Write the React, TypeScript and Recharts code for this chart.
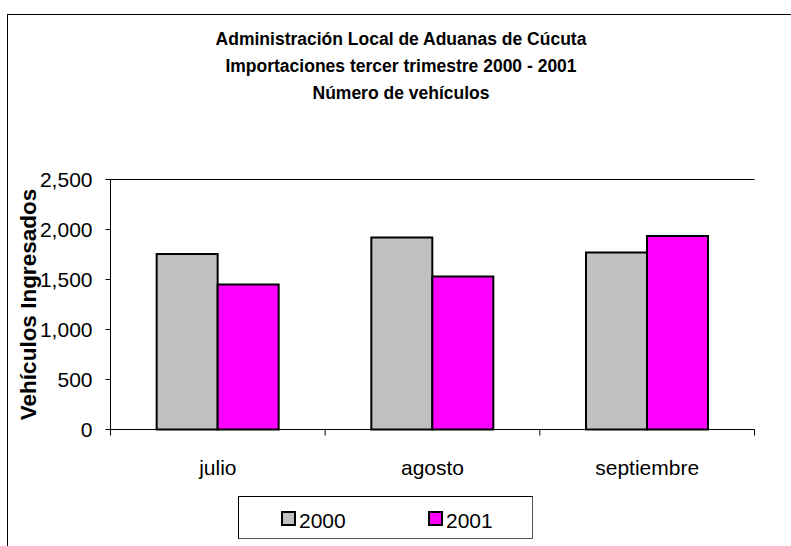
import { BarChart, Bar, XAxis, YAxis, CartesianGrid } from "recharts";

const months = ["julio", "agosto", "septiembre"];
const values2000 = [1755, 1920, 1770];
const values2001 = [1450, 1530, 1935];
const yTicks = [0, 500, 1000, 1500, 2000, 2500];
const series = [
  { key: "v2000", name: "2000", color: "#c0c0c0" },
  { key: "v2001", name: "2001", color: "#ff00ff" },
];
const titleLines = [
  "Administración Local de Aduanas de Cúcuta",
  "Importaciones tercer trimestre 2000 - 2001",
  "Número de vehículos",
];

const data = months.map((m, i) => ({
  month: m,
  v2000: values2000[i],
  v2001: values2001[i],
}));

const FONT = "'Liberation Sans', Arial, sans-serif";

// category ticks sit on the band edges, labels in the middle
const MonthTick = (props: any) => {
  const { x, y, payload, index, visibleTicksCount } = props;
  const half = payload?.offset ?? 644 / months.length / 2;
  const last = index === (visibleTicksCount ?? months.length) - 1;
  return (
    <g>
      <line x1={x - half} y1={y} x2={x - half} y2={y + 6} stroke="#000" />
      {last && <line x1={x + half} y1={y} x2={x + half} y2={y + 6} stroke="#000" />}
      <text
        x={x}
        y={y + 45}
        textAnchor="middle"
        fontSize={21}
        fontFamily={FONT}
        fill="#000"
      >
        {payload.value}
      </text>
    </g>
  );
};

const YLabel = (props: any) => {
  const vb = props.viewBox || {};
  const cx = 28;
  const cy = vb.y + vb.height / 2;
  return (
    <text
      x={cx}
      y={cy}
      transform={`rotate(-90, ${cx}, ${cy})`}
      textAnchor="middle"
      dominantBaseline="central"
      fontSize={22.5}
      fontWeight="bold"
      fontFamily={FONT}
      fill="#000"
    >
      Vehículos Ingresados
    </text>
  );
};

export default function App() {
  return (
    <div
      style={{
        position: "absolute",
        left: 0,
        top: 0,
        width: 791,
        height: 546,
        overflow: "hidden",
        background: "#fff",
        fontFamily: FONT,
      }}
    >
      <div
        style={{
          position: "absolute",
          left: 7,
          top: 14,
          width: 820,
          height: 600,
          border: "1px solid #000",
        }}
      />

      <div
        style={{
          position: "absolute",
          left: 0,
          top: 26,
          width: 802,
          textAlign: "center",
          fontSize: 17.5,
          fontWeight: "bold",
          lineHeight: "27px",
        }}
      >
        {titleLines.map((t) => (
          <div key={t}>{t}</div>
        ))}
      </div>

      <div style={{ position: "absolute", left: 0, top: 0 }}>
        <BarChart
          width={791}
          height={546}
          data={data}
          margin={{ top: 179.5, right: 36.5, bottom: 76.5, left: 0.5 }}
          barCategoryGap="21.5%"
          barGap={0}
        >
          <CartesianGrid vertical={false} stroke="#000" />
          <XAxis
            dataKey="month"
            height={40}
            axisLine={{ stroke: "#000" }}
            tickLine={false}
            tickSize={0}
            tickMargin={0}
            interval={0}
            tick={<MonthTick />}
          />
          <YAxis
            yAxisId="left"
            width={110}
            domain={[0, 2500]}
            ticks={yTicks}
            interval={0}
            axisLine={{ stroke: "#000" }}
            tickLine={{ stroke: "#000" }}
            tickSize={5}
            tickMargin={13}
            tickFormatter={(v: number) => v.toLocaleString("en-US")}
            tick={{ fill: "#000", fontSize: 21, fontFamily: FONT }}
            label={<YLabel />}
          />
          <YAxis
            yAxisId="right"
            orientation="right"
            width={0}
            domain={[0, 2500]}
            ticks={yTicks}
            tick={false}
            tickLine={false}
            axisLine={{ stroke: "#000" }}
          />
          {series.map((s) => (
            <Bar
              key={s.key}
              yAxisId="left"
              dataKey={s.key}
              name={s.name}
              fill={s.color}
              stroke="#000"
              strokeWidth={2}
              isAnimationActive={false}
            />
          ))}
        </BarChart>
      </div>

      <div
        style={{
          position: "absolute",
          left: 238,
          top: 496,
          width: 293,
          height: 41,
          border: "1px solid #000",
          borderRightColor: "#555",
          borderBottomColor: "#555",
          boxSizing: "content-box",
        }}
      >
        {series.map((s, i) => (
          <div
            key={s.key}
            style={{
              position: "absolute",
              left: 42 + i * 147,
              top: 13,
              display: "flex",
              alignItems: "center",
              fontSize: 21,
              lineHeight: "21px",
            }}
          >
            <span
              style={{
                display: "inline-block",
                width: 11,
                height: 11,
                background: s.color,
                border: "2px solid #000",
                marginRight: 3,
                marginTop: -4,
              }}
            />
            {s.name}
          </div>
        ))}
      </div>
    </div>
  );
}
